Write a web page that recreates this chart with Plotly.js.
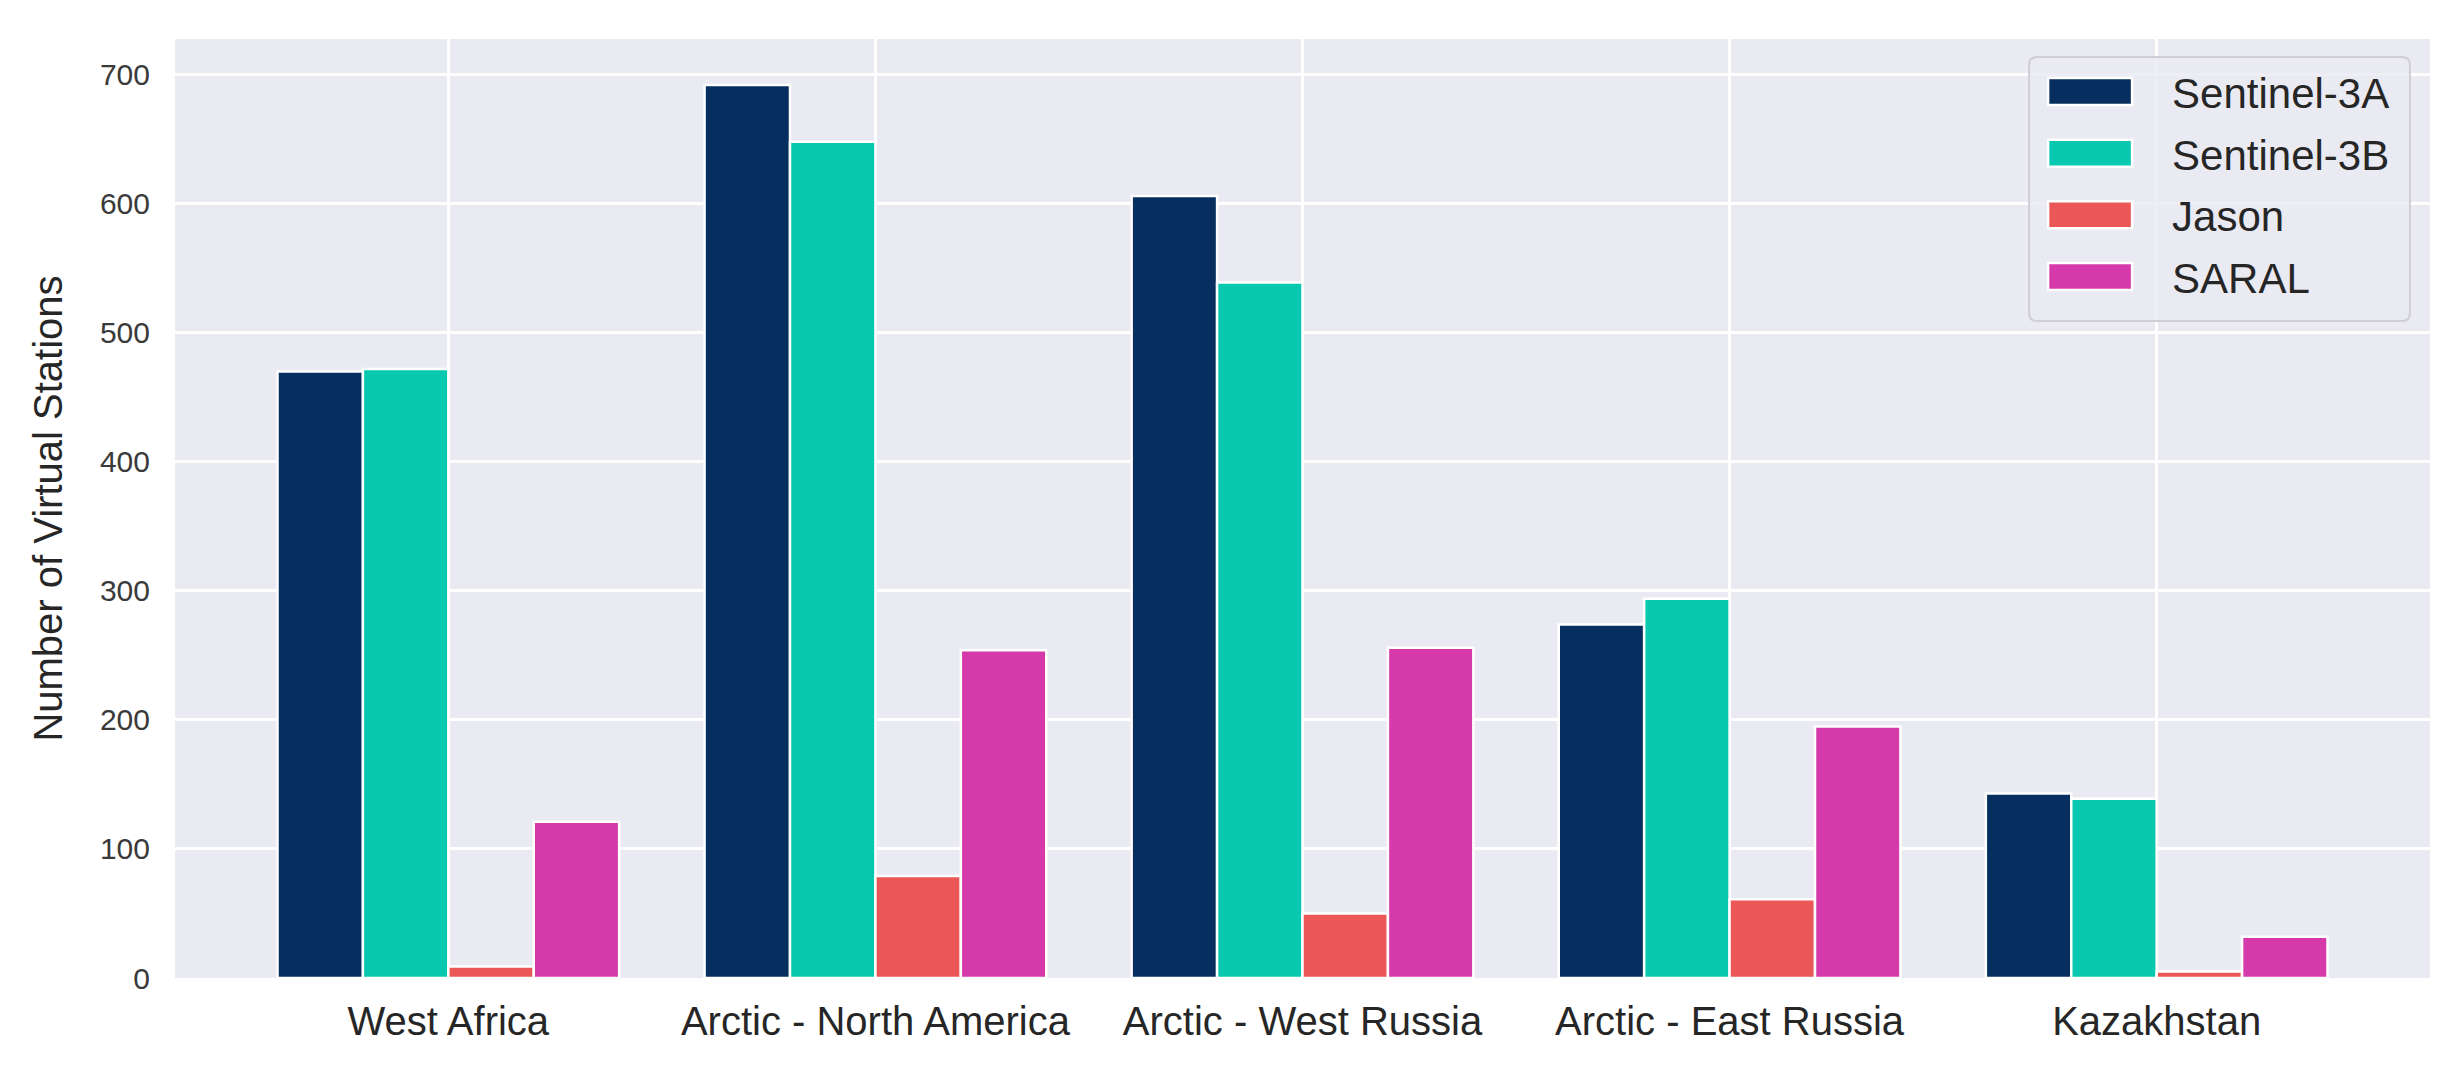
<!DOCTYPE html>
<html>
<head>
<meta charset="utf-8">
<script src="https://cdn.plot.ly/plotly-3.0.1.min.js"></script>
<style>
  html, body { margin: 0; padding: 0; background: #ffffff; }
  #chart { width: 2456px; height: 1069px; }
</style>
</head>
<body>
<div id="chart"></div>
<script>
const regions = ["West Africa", "Arctic - North America", "Arctic - West Russia", "Arctic - East Russia", "Kazakhstan"];
const seriesNames = ["Sentinel-3A", "Sentinel-3B", "Jason", "SARAL"];
const sentinel3A = [470, 692, 606, 274, 143];
const sentinel3B = [472, 648, 539, 294, 139];
const jason = [9, 79, 50, 61, 5];
const saral = [121, 254, 256, 195, 32];
const yTicks = [0, 100, 200, 300, 400, 500, 600, 700];

const colors = ["#062f5f", "#08c8b0", "#eb5757", "#d63aaa"];
const values = [sentinel3A, sentinel3B, jason, saral];

const font = "Liberation Sans, Arial, Helvetica, sans-serif";

const traces = values.map((vals, i) => ({
  type: "bar",
  x: regions,
  y: vals,
  name: seriesNames[i],
  legendgroup: "g" + i,
  marker: { color: colors[i], line: { color: "#ffffff", width: 2.5 } },
  hoverinfo: "x+y+name"
}));

// legend frame (paper coordinates), rounded corners
const bx0 = 0.8222, bx1 = 0.9911, byT = 0.9808, byB = 0.6997, rx = 0.0035, ry = 0.0085;
const framePath =
  `M${bx0 + rx},${byT} L${bx1 - rx},${byT} Q${bx1},${byT} ${bx1},${byT - ry} ` +
  `L${bx1},${byB + ry} Q${bx1},${byB} ${bx1 - rx},${byB} ` +
  `L${bx0 + rx},${byB} Q${bx0},${byB} ${bx0},${byB + ry} ` +
  `L${bx0},${byT - ry} Q${bx0},${byT} ${bx0 + rx},${byT} Z`;

const layout = {
  width: 2456,
  height: 1069,
  margin: { l: 175, r: 26, t: 39, b: 91 },
  paper_bgcolor: "#ffffff",
  plot_bgcolor: "#eaeaf2",
  barmode: "group",
  bargap: 0.2,
  bargroupgap: 0,
  font: { family: font, color: "#262626" },
  xaxis: {
    type: "category",
    range: [-0.64, 4.64],
    showgrid: true,
    gridcolor: "#ffffff",
    gridwidth: 3,
    zeroline: false,
    showline: false,
    ticks: "",
    ticklabelstandoff: 16,
    tickfont: { family: font, size: 40, color: "#262626" }
  },
  yaxis: {
    range: [0, 727.7],
    tickvals: yTicks,
    ticktext: yTicks.map(String),
    showgrid: true,
    gridcolor: "#ffffff",
    gridwidth: 3,
    zeroline: false,
    showline: false,
    ticks: "",
    ticklabelstandoff: 24,
    tickfont: { family: font, size: 30, color: "#3a3a3a" },
    title: { text: "Number of Virtual Stations", font: { family: font, size: 40, color: "#262626" }, standoff: 24 }
  },
  shapes: [{
    type: "path",
    xref: "paper",
    yref: "paper",
    path: framePath,
    fillcolor: "rgba(234,234,242,0.8)",
    line: { color: "#cfcfd3", width: 2 },
    layer: "above"
  }],
  legend: {
    x: 0.8129,
    y: 0.980,
    xanchor: "left",
    yanchor: "top",
    bgcolor: "rgba(0,0,0,0)",
    borderwidth: 0,
    font: { family: font, size: 42, color: "#262626" },
    itemwidth: 154,
    tracegroupgap: 4,
    traceorder: "grouped"
  },
  showlegend: true
};

function fixLegend(gd) {
  gd.querySelectorAll(".legend .legendpoints path").forEach(p => {
    p.setAttribute("d", "M42,13.5H-42V-13.5H42Z");
  });
}

Plotly.newPlot("chart", traces, layout, { displayModeBar: false, responsive: false }).then(gd => {
  fixLegend(gd);
  gd.on("plotly_afterplot", () => fixLegend(gd));
  setTimeout(() => fixLegend(gd), 50);
});
</script>
</body>
</html>
